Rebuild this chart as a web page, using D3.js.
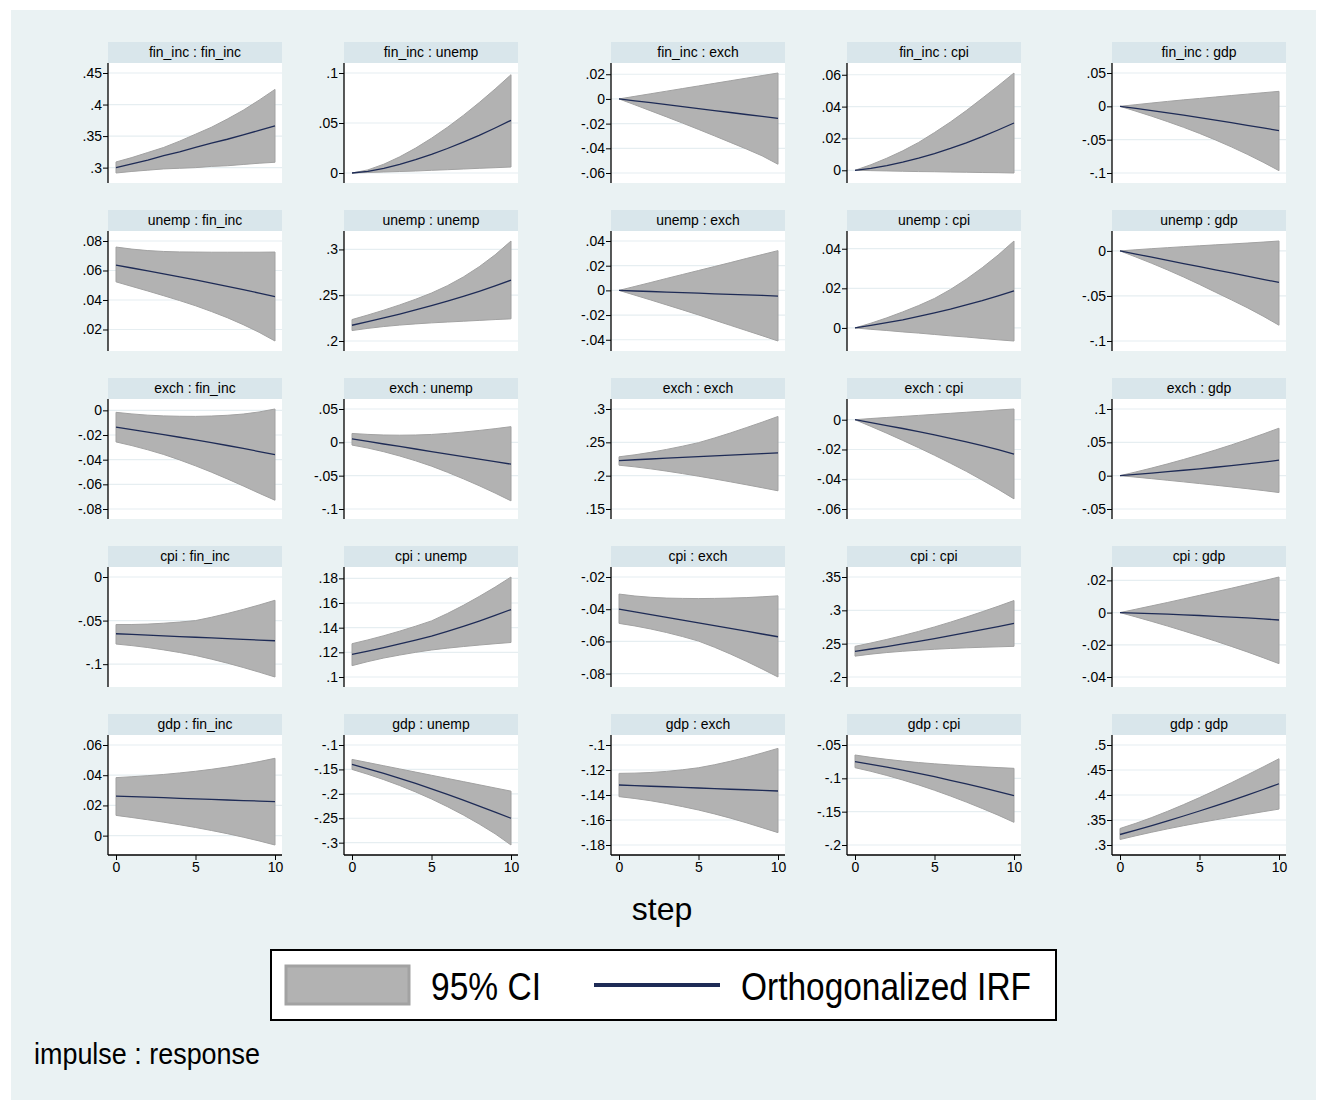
<!DOCTYPE html>
<html>
<head>
<meta charset="utf-8">
<script src="https://cdn.jsdelivr.net/npm/d3@7"></script>
<style>
  body { margin: 0; background: #fff; }
  text { font-family: "Liberation Sans Narrow", "Arial Narrow", "Liberation Sans", sans-serif; fill: #000; }
</style>
</head>
<body>
<div id="chart"></div>
<script>
// IRF grid: impulse (row) : response (column), steps 0..10

var vars = ["fin_inc", "unemp", "exch", "cpi", "gdp"];
var steps = [0, 1, 2, 3, 4, 5, 6, 7, 8, 9, 10];
var xTicks = [0, 5, 10];

// y tick values per panel, row by row
var yTicks = [
  [.3, .35, .4, .45], [0, .05, .1], [-.06, -.04, -.02, 0, .02], [0, .02, .04, .06], [-.1, -.05, 0, .05],
  [.02, .04, .06, .08], [.2, .25, .3], [-.04, -.02, 0, .02, .04], [0, .02, .04], [-.1, -.05, 0],
  [-.08, -.06, -.04, -.02, 0], [-.1, -.05, 0, .05], [.15, .2, .25, .3], [-.06, -.04, -.02, 0], [-.05, 0, .05, .1],
  [-.1, -.05, 0], [.1, .12, .14, .16, .18], [-.08, -.06, -.04, -.02], [.2, .25, .3, .35], [-.04, -.02, 0, .02],
  [0, .02, .04, .06], [-.3, -.25, -.2, -.15, -.1], [-.18, -.16, -.14, -.12, -.1], [-.2, -.15, -.1, -.05], [.3, .35, .4, .45, .5]
];

// orthogonalized IRF, steps 0..10
var irf = [
  [.300, .306, .312, .319, .325, .332, .339, .345, .352, .359, .366],
  [0, .0017, .0047, .0087, .0133, .0186, .0245, .0309, .0377, .0450, .0527],
  [0, -.0015, -.003, -.0046, -.0062, -.0078, -.0094, -.011, -.0126, -.0142, -.0157],
  [0, .0012, .003, .0052, .0077, .0105, .0137, .0172, .0211, .0253, .0297],
  [0, -.0031, -.0064, -.0098, -.0133, -.0169, -.0206, -.0244, -.0284, -.0324, -.0365],

  [.0636, .0617, .0597, .0577, .0557, .0536, .0515, .0493, .0470, .0447, .0423],
  [.2172, .2211, .2252, .2294, .2339, .2386, .2435, .2488, .2543, .2602, .2664],
  [0, -.0005, -.0009, -.0014, -.0018, -.0023, -.0028, -.0032, -.0037, -.0041, -.0046],
  [0, .0013, .0027, .0041, .0058, .0076, .0095, .0116, .0138, .0162, .0187],
  [0, -.0035, -.007, -.0105, -.014, -.0175, -.021, -.0245, -.028, -.0315, -.035],

  [-.0136, -.0156, -.0176, -.0197, -.0218, -.0239, -.0262, -.0285, -.0309, -.0334, -.0359],
  [.0051, .0013, -.0025, -.0062, -.0100, -.0138, -.0176, -.0214, -.0251, -.0289, -.0327],
  [.2227, .2239, .2250, .2262, .2273, .2285, .2297, .2308, .2320, .2331, .2343],
  [0, -.0019, -.0039, -.0059, -.0080, -.0102, -.0125, -.0149, -.0174, -.0201, -.0231],
  [0, .0019, .0039, .0060, .0081, .0103, .0126, .0150, .0176, .0203, .0232],

  [-.0651, -.0659, -.0667, -.0675, -.0683, -.0691, -.0699, -.0707, -.0715, -.0723, -.0731],
  [.1184, .1210, .1238, .1268, .1299, .1332, .1370, .1411, .1454, .1499, .1547],
  [-.0400, -.0417, -.0434, -.0451, -.0468, -.0485, -.0502, -.0519, -.0536, -.0554, -.0571],
  [.2384, .2420, .2457, .2496, .2536, .2577, .2620, .2664, .2709, .2755, .2803],
  [0, -.0003, -.0007, -.0010, -.0014, -.0018, -.0023, -.0028, -.0033, -.0039, -.0046],

  [.0262, .0258, .0255, .0251, .0247, .0244, .0240, .0236, .0232, .0229, .0225],
  [-.1397, -.1487, -.1582, -.1682, -.1787, -.1898, -.2012, -.2130, -.2251, -.2374, -.2500],
  [-.1320, -.1325, -.1330, -.1334, -.1339, -.1344, -.1349, -.1354, -.1358, -.1363, -.1368],
  [-.0750, -.0790, -.0833, -.0878, -.0926, -.0976, -.1029, -.1084, -.1141, -.1199, -.1260],
  [.3210, .3298, .3389, .3483, .3580, .3680, .3783, .3889, .3998, .4110, .4225]
];

// 95% CI lower bound
var ciLow = [
  [.2915, .294, .296, .298, .299, .300, .302, .303, .305, .307, .3085],
  [0, .0005, .001, .0015, .002, .0027, .0033, .004, .0047, .0053, .006],
  [0, -.0048, -.0097, -.0146, -.0196, -.0247, -.0299, -.0352, -.0405, -.0461, -.0529],
  [0, -.0002, -.0004, -.0006, -.0008, -.0009, -.0011, -.0012, -.0014, -.0015, -.0017],
  [0, -.0073, -.0149, -.0230, -.0315, -.0406, -.0504, -.0608, -.0719, -.0838, -.0965],

  [.0523, .0492, .0461, .0429, .0396, .0361, .0322, .0280, .0233, .0181, .0122],
  [.2114, .2138, .2158, .2174, .2187, .2198, .2207, .2216, .2225, .2234, .2242],
  [0, -.0039, -.0078, -.0118, -.0158, -.0199, -.0241, -.0283, -.0325, -.0367, -.041],
  [0, -.0007, -.0013, -.002, -.0026, -.0033, -.004, -.0046, -.0053, -.006, -.0066],
  [0, -.0068, -.0138, -.0212, -.0290, -.0372, -.0458, -.0543, -.0630, -.0724, -.0825],

  [-.0256, -.0286, -.0320, -.0358, -.0402, -.0450, -.0501, -.0556, -.0613, -.0672, -.0729],
  [-.0041, -.0086, -.0141, -.0205, -.0277, -.0357, -.0449, -.0547, -.0651, -.0761, -.0878],
  [.2157, .2132, .2102, .2068, .2031, .1992, .1951, .1908, .1864, .1819, .1773],
  [0, -.0045, -.0091, -.0139, -.0188, -.0239, -.0292, -.0347, -.0406, -.0467, -.0532],
  [0, -.0022, -.0045, -.0069, -.0093, -.0118, -.0143, -.0169, -.0195, -.0223, -.0253],

  [-.0769, -.0787, -.0809, -.0836, -.0866, -.0900, -.0942, -.0988, -.1038, -.1091, -.1147],
  [.1092, .1125, .1154, .1178, .1200, .1219, .1234, .1247, .1259, .1270, .1280],
  [-.0488, -.0504, -.0523, -.0545, -.0570, -.0598, -.0636, -.0678, -.0723, -.0771, -.0821],
  [.2313, .2343, .2367, .2386, .2402, .2416, .2428, .2438, .2446, .2453, .2460],
  [0, -.0027, -.0055, -.0084, -.0114, -.0145, -.0177, -.0210, -.0244, -.0280, -.0317],

  [.0134, .0120, .0105, .0089, .0072, .0054, .0034, .0013, -.0010, -.0035, -.0062],
  [-.1500, -.1600, -.1710, -.1830, -.1962, -.2106, -.2263, -.2433, -.2618, -.2818, -.3048],
  [-.1413, -.1428, -.1446, -.1468, -.1493, -.1520, -.1551, -.1585, -.1622, -.1661, -.1701],
  [-.0840, -.0895, -.0957, -.1025, -.1099, -.1179, -.1265, -.1356, -.1452, -.1552, -.1660],
  [.3110, .3185, .3256, .3323, .3386, .3446, .3503, .3558, .3613, .3666, .3718]
];

// 95% CI upper bound
var ciHigh = [
  [.309, .316, .324, .332, .342, .353, .364, .377, .391, .407, .424],
  [0, .0031, .0088, .0162, .0249, .0348, .0457, .0576, .0704, .0840, .0983],
  [0, .0021, .0042, .0063, .0084, .0105, .0126, .0147, .0168, .0189, .021],
  [0, .0035, .0076, .0122, .0175, .0237, .0303, .0375, .0452, .0530, .0611],
  [0, .0025, .005, .0074, .0097, .0118, .0140, .0162, .0183, .0204, .0225],

  [.0759, .0745, .0735, .0729, .0726, .0725, .0724, .0724, .0724, .0724, .0725],
  [.2234, .2284, .2337, .2394, .2456, .2524, .2604, .2699, .2811, .2941, .3092],
  [0, .0032, .0064, .0097, .0129, .0161, .0193, .0225, .0258, .029, .0322],
  [0, .0024, .0051, .0081, .0113, .0149, .0194, .0246, .0304, .0368, .0439],
  [0, .0013, .0025, .0036, .0047, .0057, .0067, .0077, .0087, .0098, .0110],

  [-.0016, -.0029, -.0039, -.0045, -.0048, -.0049, -.0046, -.0040, -.0030, -.0013, .0011],
  [.0133, .0119, .0110, .0107, .0110, .0118, .0134, .0154, .0178, .0205, .0235],
  [.2283, .2313, .2350, .2394, .2442, .2495, .2565, .2640, .2720, .2802, .2888],
  [0, .0008, .0015, .0022, .0029, .0036, .0043, .0050, .0057, .0065, .0072],
  [0, .0056, .0115, .0177, .0243, .0312, .0385, .0461, .0541, .0625, .0712],

  [-.0545, -.0545, -.0540, -.0530, -.0517, -.0500, -.0462, -.0419, -.0372, -.0321, -.0267],
  [.1270, .1301, .1335, .1372, .1412, .1455, .1515, .1581, .1653, .1729, .1811],
  [-.0306, -.0318, -.0326, -.0331, -.0333, -.0334, -.0333, -.0331, -.0328, -.0323, -.0317],
  [.2460, .2510, .2564, .2622, .2684, .2751, .2823, .2899, .2979, .3061, .3147],
  [0, .0021, .0042, .0063, .0085, .0107, .0129, .0151, .0174, .0197, .0221],

  [.0384, .0390, .0397, .0405, .0415, .0426, .0439, .0454, .0471, .0490, .0512],
  [-.1295, -.1360, -.1425, -.1490, -.1555, -.1620, -.1685, -.1750, -.1815, -.1880, -.1945],
  [-.1227, -.1225, -.1220, -.1211, -.1198, -.1182, -.1158, -.1130, -.1099, -.1064, -.1027],
  [-.0650, -.0685, -.0715, -.0741, -.0763, -.0782, -.0799, -.0814, -.0827, -.0839, -.0850],
  [.3330, .3435, .3550, .3675, .3808, .3948, .4094, .4245, .4401, .4561, .4725]
];

var legendLabels = ["95% CI", "Orthogonalized IRF"];

var width = 1317, height = 1100;
var colLeft = [108, 344, 611, 847, 1112];
var plotW = 174, headerH = 21, plotH = 120, rowStep = 168, firstTop = 42;
var bandColor = "#b2b2b2", bandStroke = "#a2a2a2", lineColor = "#1e2b56";

function fmt(v) {
  var s = String(+v.toFixed(4));
  return s.replace(/^(-?)0\./, "$1.");
}

var svg = d3.select("#chart").append("svg")
    .attr("width", width)
    .attr("height", height);

svg.append("rect").attr("width", width).attr("height", height).attr("fill", "#fff");
svg.append("rect").attr("x", 11).attr("y", 10).attr("width", 1305).attr("height", 1090).attr("fill", "#eaf2f3");

function drawPanel(r, c) {
  var k = r * 5 + c;
  var x0 = colLeft[c], hTop = firstTop + r * rowStep;
  var pTop = hTop + headerH, pBot = pTop + plotH, x1 = x0 + plotW;

  var g = svg.append("g");

  // header band
  g.append("rect").attr("x", x0).attr("y", hTop).attr("width", plotW).attr("height", headerH).attr("fill", "#d9e6eb");
  g.append("text")
    .attr("x", x0 + plotW / 2).attr("y", hTop + headerH / 2 + 1)
    .attr("text-anchor", "middle").attr("dominant-baseline", "middle")
    .attr("font-size", "15px")
    .attr("transform", "translate(" + (x0 + plotW / 2) + ",0) scale(0.93,1) translate(" + -(x0 + plotW / 2) + ",0)")
    .text(vars[r] + " : " + vars[c]);

  // plot region
  g.append("rect").attr("x", x0).attr("y", pTop).attr("width", plotW).attr("height", plotH).attr("fill", "#fff");

  var x = d3.scaleLinear().domain([0, 10]).range([x0 + 8, x1 - 7]);
  var ext = d3.extent(yTicks[k].concat(ciLow[k], ciHigh[k]));
  var y = d3.scaleLinear().domain(ext).range([pBot - 10, pTop + 10]);

  // grid lines
  g.append("g").selectAll("line")
    .data(yTicks[k])
    .enter().append("line")
      .attr("x1", x0).attr("x2", x1)
      .attr("y1", function(d) { return y(d); })
      .attr("y2", function(d) { return y(d); })
      .attr("stroke", "#e6eef1").attr("stroke-width", 1.2);

  var pts = steps.map(function(s, i) { return {s: s, lo: ciLow[k][i], hi: ciHigh[k][i], v: irf[k][i]}; });

  var area = d3.area()
    .x(function(d) { return x(d.s); })
    .y0(function(d) { return y(d.lo); })
    .y1(function(d) { return y(d.hi); });

  g.append("path").datum(pts)
    .attr("d", area)
    .attr("fill", bandColor).attr("stroke", bandStroke).attr("stroke-width", 1);

  var line = d3.line()
    .x(function(d) { return x(d.s); })
    .y(function(d) { return y(d.v); });

  g.append("path").datum(pts)
    .attr("d", line)
    .attr("fill", "none").attr("stroke", lineColor).attr("stroke-width", 1.3);

  // y axis
  var ya = g.append("g")
    .attr("transform", "translate(" + x0 + ",0)")
    .call(d3.axisLeft(y).tickValues(yTicks[k]).tickSize(5).tickSizeOuter(0).tickFormat(fmt));
  ya.select(".domain").remove();
  ya.selectAll("line").attr("stroke", "#000");
  ya.selectAll("text").attr("font-size", "14px").attr("x", -6);
  ya.attr("font-family", null);
  g.append("line").attr("x1", x0).attr("x2", x0).attr("y1", pTop).attr("y2", pBot)
    .attr("stroke", "#000").attr("stroke-width", 1.3);

  if (r == 4) {
    var xa = g.append("g")
      .attr("transform", "translate(0," + pBot + ")")
      .call(d3.axisBottom(x).tickValues(xTicks).tickSize(5).tickSizeOuter(0));
    xa.select(".domain").remove();
    xa.selectAll("line").attr("stroke", "#000");
    xa.selectAll("text").attr("font-size", "14px").attr("y", 7);
    xa.attr("font-family", null);
    g.append("line").attr("x1", x0).attr("x2", x1).attr("y1", pBot).attr("y2", pBot)
      .attr("stroke", "#000").attr("stroke-width", 1.3);
  }
}

for (var r = 0; r < 5; r++) {
  for (var c = 0; c < 5; c++) {
    drawPanel(r, c);
  }
}

// x axis title
svg.append("text")
  .attr("x", 662).attr("y", 920)
  .attr("text-anchor", "middle")
  .attr("font-size", "32px")
  .text("step");

// legend
var lg = svg.append("g");
lg.append("rect").attr("x", 271).attr("y", 950).attr("width", 785).attr("height", 70)
  .attr("fill", "#fff").attr("stroke", "#000").attr("stroke-width", 2);
lg.append("rect").attr("x", 286).attr("y", 966).attr("width", 123).attr("height", 38)
  .attr("fill", bandColor).attr("stroke", bandStroke).attr("stroke-width", 3);
lg.append("text").attr("x", 431).attr("y", 1000).attr("font-size", "39px")
  .attr("textLength", 110).attr("lengthAdjust", "spacingAndGlyphs")
  .text(legendLabels[0]);
lg.append("line").attr("x1", 594).attr("x2", 720).attr("y1", 985).attr("y2", 985)
  .attr("stroke", lineColor).attr("stroke-width", 4);
lg.append("text").attr("x", 741).attr("y", 1000).attr("font-size", "39px")
  .attr("textLength", 290).attr("lengthAdjust", "spacingAndGlyphs")
  .text(legendLabels[1]);

// note
svg.append("text")
  .attr("x", 34).attr("y", 1064)
  .attr("font-size", "29px")
  .attr("textLength", 226).attr("lengthAdjust", "spacingAndGlyphs")
  .text("impulse : response");
</script>
</body>
</html>
